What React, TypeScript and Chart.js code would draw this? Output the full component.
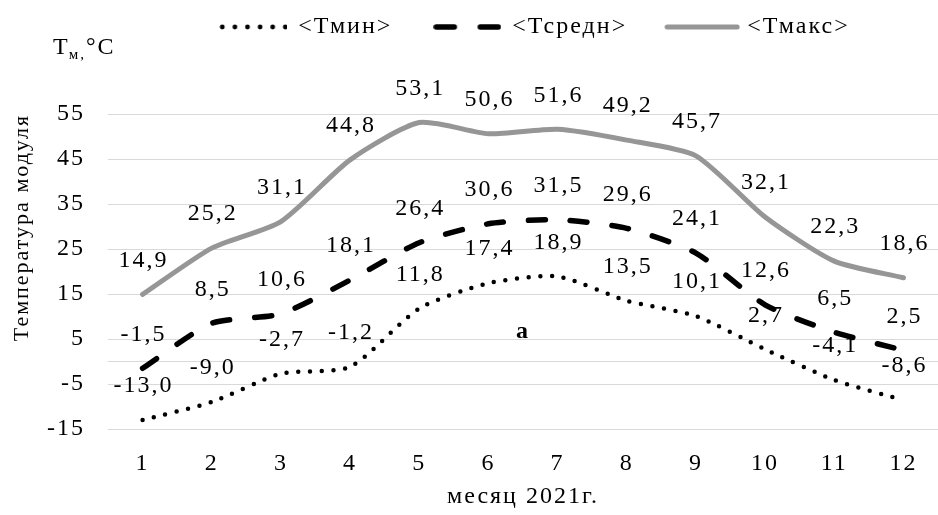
import React, { useEffect, useRef } from 'react';
import { Chart, registerables } from 'chart.js';

Chart.register(...registerables);

const months: string[] = ['1', '2', '3', '4', '5', '6', '7', '8', '9', '10', '11', '12'];
const tMin: number[] = [-13.0, -9.0, -2.7, -1.2, 11.8, 17.4, 18.9, 13.5, 10.1, 2.7, -4.1, -8.6];
const tMid: number[] = [-1.5, 8.5, 10.6, 18.1, 26.4, 30.6, 31.5, 29.6, 24.1, 12.6, 6.5, 2.5];
const tMax: number[] = [14.9, 25.2, 31.1, 44.8, 53.1, 50.6, 51.6, 49.2, 45.7, 32.1, 22.3, 18.6];
const yTickValues: number[] = [-15, -5, 0, 5, 15, 25, 35, 45, 55];
const seriesNames: string[] = ['<Тмин>', '<Тсредн>', '<Тмакс>'];

const FONT = '"Liberation Serif", "Times New Roman", serif';
const FS = 24;
const LS = '2px';
const GRAY = '#969696';
const TENSION = 0.22;

const fmt = (v: number) => v.toFixed(1).replace('.', ',');

function makeSample(kind: 'dot' | 'dash' | 'solid'): HTMLCanvasElement {
  const c = document.createElement('canvas');
  const w = kind === 'solid' ? 76 : 68;
  c.width = w;
  c.height = 10;
  const g = c.getContext('2d') as CanvasRenderingContext2D;
  g.lineCap = 'round';
  g.strokeStyle = kind === 'solid' ? GRAY : '#000';
  g.fillStyle = '#000';
  if (kind === 'dot') {
    for (let i = 0; i < 6; i++) {
      g.beginPath();
      g.arc(3 + i * 12.6, 5, 2.4, 0, Math.PI * 2);
      g.fill();
    }
  } else if (kind === 'dash') {
    g.lineWidth = 5.5;
    g.beginPath();
    g.moveTo(3, 5);
    g.lineTo(21, 5);
    g.moveTo(47, 5);
    g.lineTo(65, 5);
    g.stroke();
  } else {
    g.lineWidth = 5;
    g.beginPath();
    g.moveTo(3, 5);
    g.lineTo(w - 3, 5);
    g.stroke();
  }
  return c;
}

const spacing = {
  id: 'spacing',
  beforeUpdate(chart: any) {
    chart.ctx.letterSpacing = LS;
  },
  beforeDraw(chart: any) {
    chart.ctx.letterSpacing = LS;
  },
};

const valueLabels = {
  id: 'valueLabels',
  afterDatasetsDraw(chart: any) {
    const ctx = chart.ctx;
    ctx.save();
    ctx.font = `${FS}px ${FONT}`;
    ctx.fillStyle = '#000';
    ctx.textAlign = 'center';
    ctx.textBaseline = 'middle';
    chart.data.datasets.forEach((ds: any, i: number) => {
      const meta = chart.getDatasetMeta(i);
      meta.data.forEach((pt: any, j: number) => {
        ctx.fillText(fmt(ds.data[j]), pt.x + 1, pt.y - 34);
      });
    });
    ctx.restore();
  },
};

const extraText = {
  id: 'extraText',
  afterDraw(chart: any) {
    const ctx = chart.ctx;
    const { left, top } = chart.chartArea;
    ctx.save();
    ctx.fillStyle = '#000';
    ctx.textBaseline = 'alphabetic';
    ctx.textAlign = 'left';
    let x = left - 55;
    const base = top - 60;
    ctx.font = `${FS}px ${FONT}`;
    ctx.fillText('Т', x, base);
    x += ctx.measureText('Т').width - 1;
    ctx.font = `15px ${FONT}`;
    ctx.fillText('м,', x, base + 5);
    x += ctx.measureText('м,').width;
    ctx.font = `${FS}px ${FONT}`;
    ctx.fillText('°C', x, base);
    const xs = chart.scales.x;
    const ys = chart.scales.y;
    ctx.font = `bold ${FS}px ${FONT}`;
    ctx.textAlign = 'center';
    ctx.textBaseline = 'middle';
    ctx.fillText('а', xs.getPixelForValue(5.5), ys.getPixelForValue(6.5));
    ctx.restore();
  },
};

const legendShift = {
  id: 'legendShift',
  afterLayout(chart: any) {
    const lg = chart.legend;
    if (lg) {
      lg.left += 66;
      lg.right += 66;
    }
  },
};

export default function App() {
  const ref = useRef<HTMLCanvasElement | null>(null);

  useEffect(() => {
    if (!ref.current) return;
    const samples = [makeSample('dot'), makeSample('dash'), makeSample('solid')];
    const chart = new Chart(ref.current, {
      type: 'line',
      data: {
        labels: months,
        datasets: [
          {
            label: seriesNames[0],
            data: tMin,
            borderColor: '#000',
            backgroundColor: '#000',
            borderWidth: 4.5,
            borderDash: [0, 11.7],
            borderCapStyle: 'round',
            pointRadius: 0,
            pointStyle: samples[0],
            tension: TENSION,
          },
          {
            label: seriesNames[1],
            data: tMid,
            borderColor: '#000',
            backgroundColor: '#000',
            borderWidth: 5.5,
            borderDash: [17, 25],
            borderCapStyle: 'round',
            pointRadius: 0,
            pointStyle: samples[1],
            tension: TENSION,
          },
          {
            label: seriesNames[2],
            data: tMax,
            borderColor: GRAY,
            backgroundColor: GRAY,
            borderWidth: 5,
            borderCapStyle: 'round',
            pointRadius: 0,
            pointStyle: samples[2],
            tension: TENSION,
          },
        ],
      },
      options: {
        responsive: false,
        animation: false,
        events: [],
        layout: { padding: { top: -27, left: 0, right: 0, bottom: 0 } },
        plugins: {
          legend: {
            position: 'top',
            labels: {
              usePointStyle: true,
              pointStyleWidth: 66,
              padding: 42,
              color: '#000',
              font: { family: FONT, size: FS },
            },
          },
          title: {
            display: true,
            text: ' ',
            weight: 500,
            font: { size: 10 },
            padding: { top: 15, bottom: 38 },
          },
          tooltip: { enabled: false },
        },
        scales: {
          x: {
            offset: true,
            grid: { display: false, drawTicks: false, offset: true },
            border: { display: false },
            ticks: { color: '#000', font: { family: FONT, size: FS }, padding: 20 },
            title: {
              display: true,
              text: 'месяц 2021г.',
              color: '#000',
              font: { family: FONT, size: FS },
              padding: { top: 4, bottom: 4 },
            },
            afterFit(scale: any) {
              scale.height = 86;
            },
          },
          y: {
            min: -15,
            max: 55,
            grid: { color: '#d9d9d9', lineWidth: 1, drawTicks: false },
            border: { display: false },
            afterBuildTicks(scale: any) {
              scale.ticks = yTickValues.map((v) => ({ value: v }));
            },
            ticks: {
              color: '#000',
              font: { family: FONT, size: FS },
              padding: 23,
              callback: (v: any) => (Number(v) === 0 ? '' : String(v)),
            },
            title: {
              display: true,
              text: 'Температура модуля',
              align: 'end',
              color: '#000',
              font: { family: FONT, size: 22 },
              padding: { top: 9, bottom: 4 },
            },
            afterFit(scale: any) {
              scale.width = 108;
            },
          },
        },
      },
      plugins: [spacing, valueLabels, extraText, legendShift],
    } as any);
    return () => chart.destroy();
  }, []);

  return (
    <div style={{ position: 'absolute', left: 0, top: 0, width: 938, height: 515, background: '#fff' }}>
      <canvas ref={ref} width={938} height={515} />
    </div>
  );
}
